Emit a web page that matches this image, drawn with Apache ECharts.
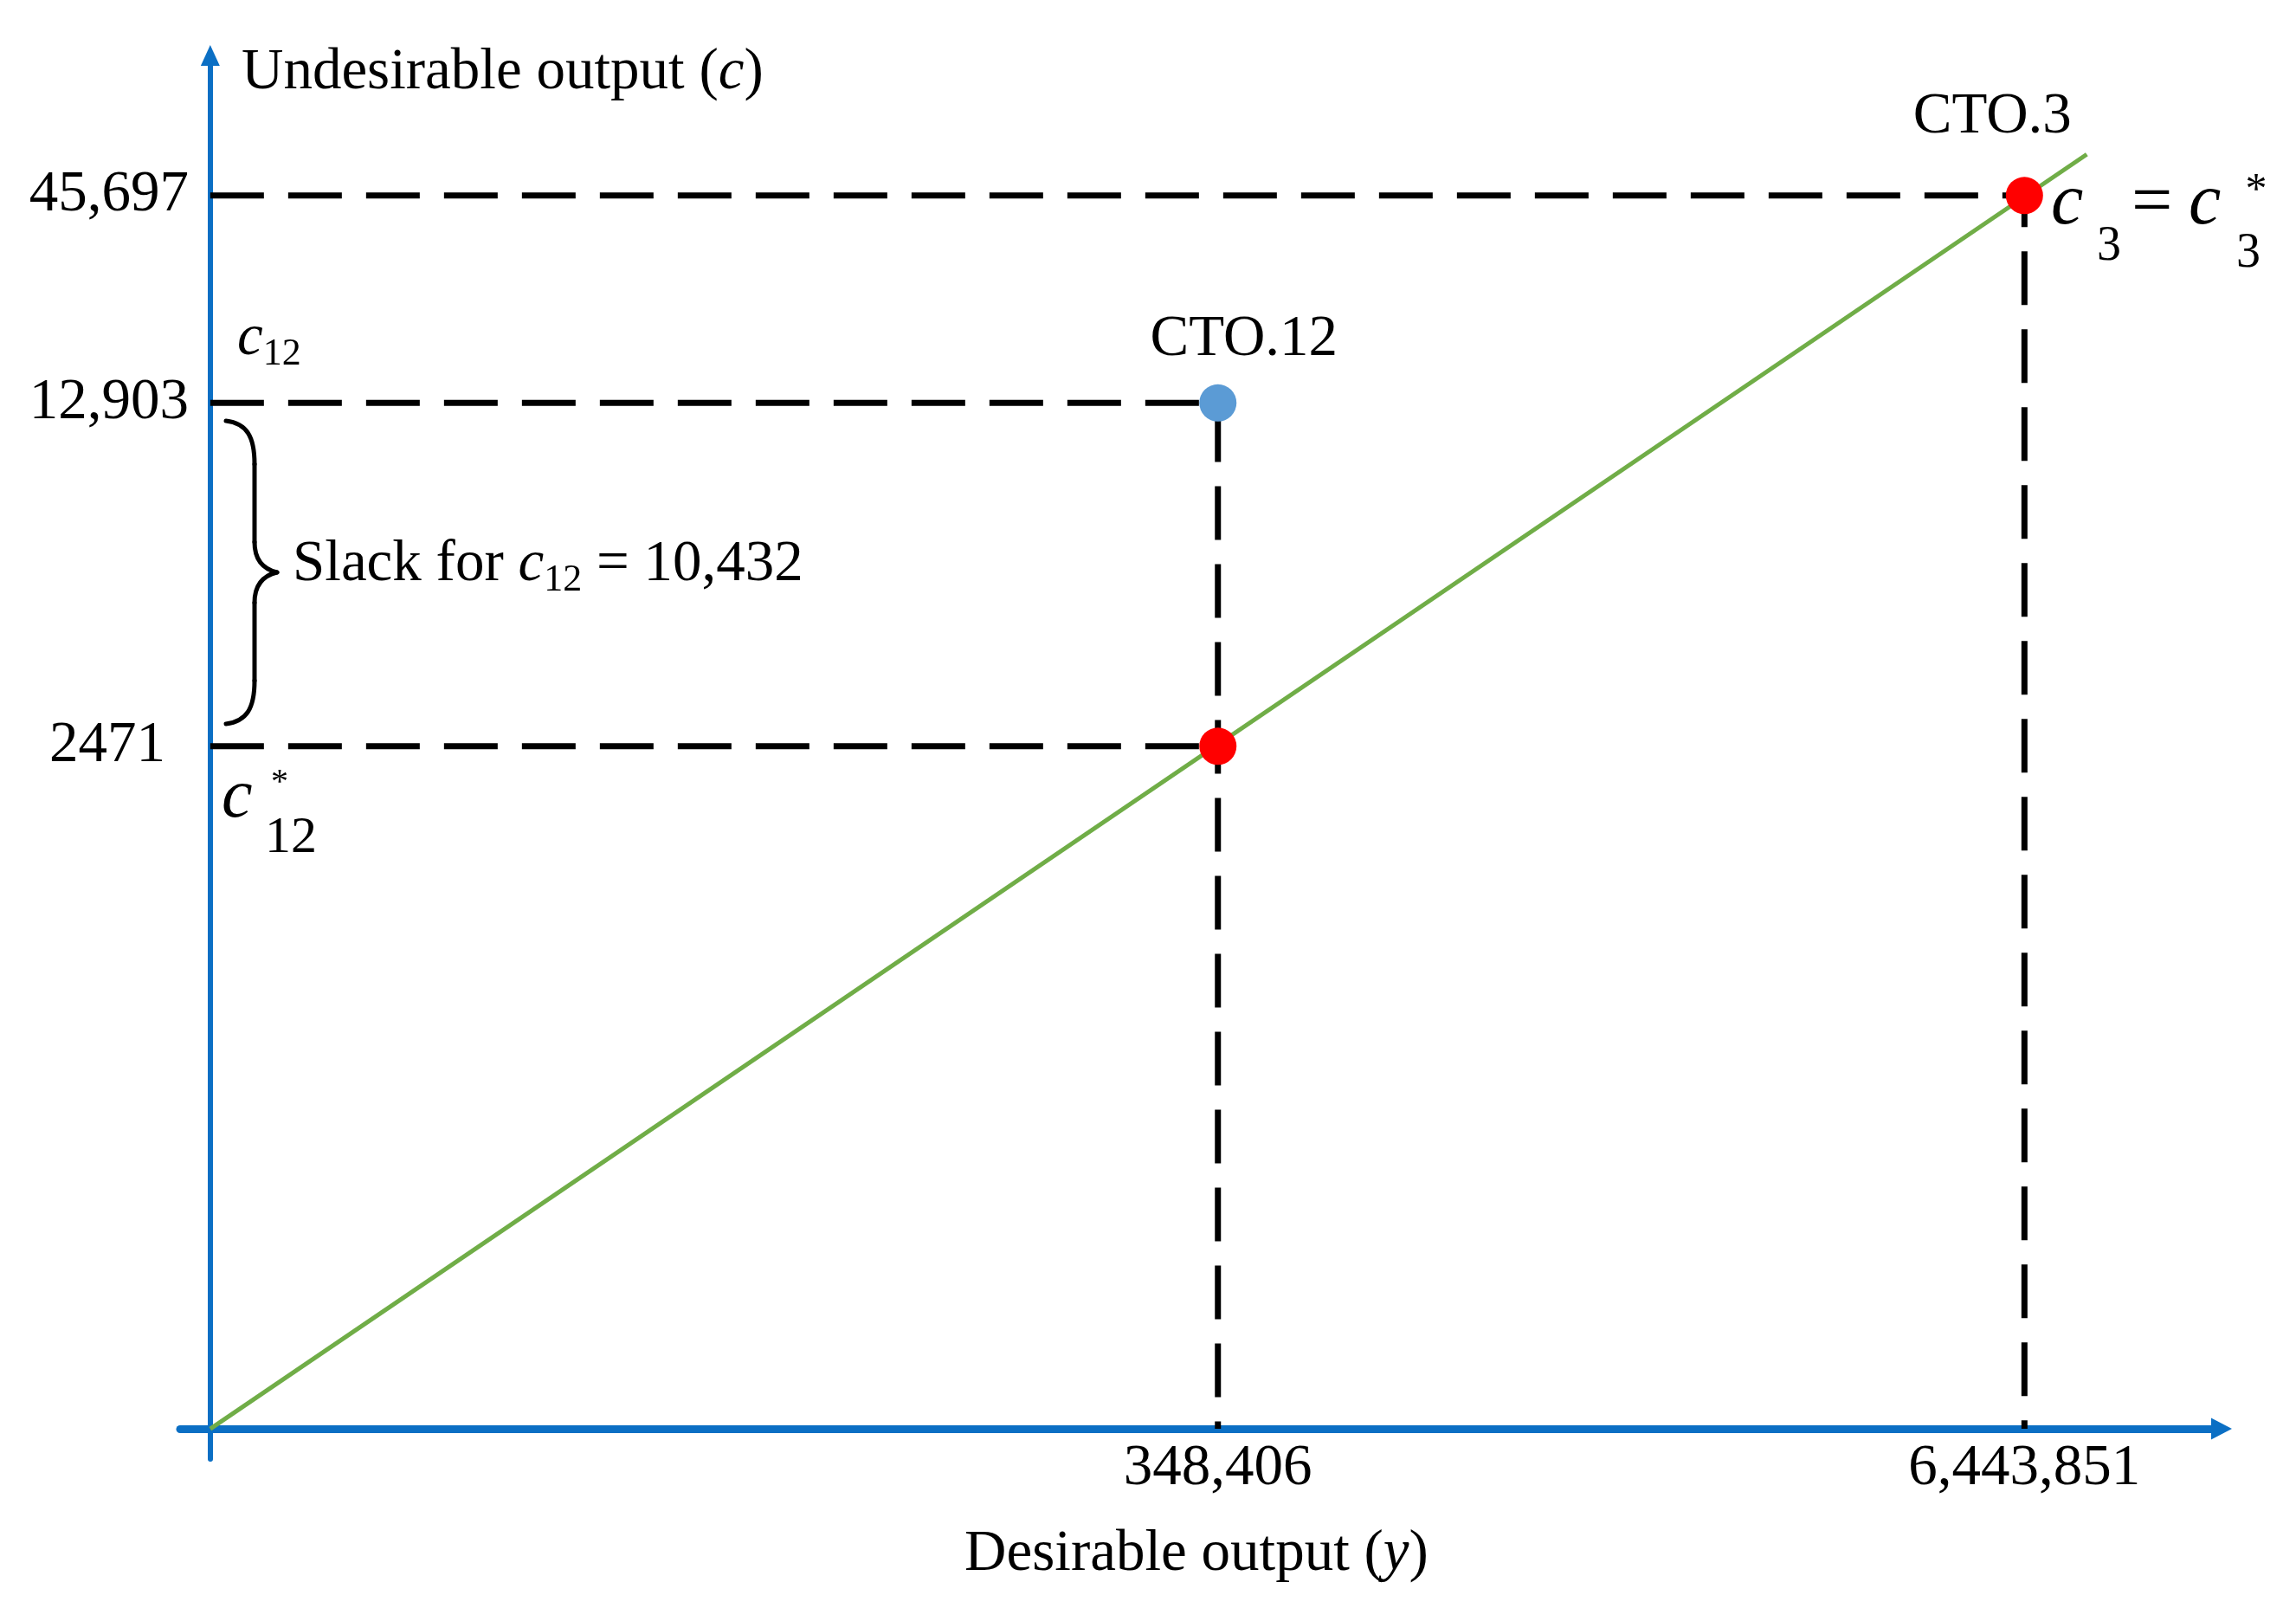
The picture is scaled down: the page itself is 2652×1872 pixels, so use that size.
<!DOCTYPE html>
<html><head><meta charset="utf-8">
<script src="https://cdn.jsdelivr.net/npm/echarts@6/dist/echarts.min.js"></script>
<style>html,body{margin:0;padding:0;background:#fff}#c{width:2652px;height:1872px}</style>
</head><body><div id="c"></div>
<script>
// ---- data (schematic, not-to-scale diagram) ----
// tick labels carry the real values; *At arrays give their place on the schematic axes
const xTickLabels = ['348,406', '6,443,851'];
const xTickAt = [501, 902];
const yTickLabels = ['2471', '12,903', '45,697'];
const yTickAt = [497, 747, 898];
const pointNames = ['CTO.12', '', 'CTO.3'];
// frontier line from origin through the efficient units
const frontier = [[0, 0], [933, 928]];

// derived points: CTO.12 observed, CTO.12 projected, CTO.3
const cto12 = [xTickAt[0], yTickAt[1]];
const cto12Star = [xTickAt[0], yTickAt[0]];
const cto3 = [xTickAt[1], yTickAt[2]];

const FONT = '"Liberation Serif", "Times New Roman", serif';
const AX = '#0b6fc4';
const BLACK = '#000';
const FS = 67;

const chart = echarts.init(document.getElementById('c'));

function t(x, y, text, o) {
  o = o || {};
  return {
    type: 'text', x: x, y: y, z: 100,
    style: Object.assign({
      text: text, fontFamily: FONT, fontSize: o.fs || FS,
      fontStyle: o.it ? 'italic' : 'normal',
      fill: BLACK, align: o.align || 'left', verticalAlign: 'middle'
    }, o.rich ? { rich: o.rich } : {})
  };
}
const tok = (fs, it, extra) => Object.assign({ fontFamily: FONT, fontSize: fs, fontStyle: it ? 'italic' : 'normal', color: BLACK, lineHeight: 80 }, extra || {});
const rich = {
  n: tok(FS, false),
  i: tok(FS, true),
  s: tok(44, false, { lineHeight: 48, verticalAlign: 'bottom' })
};

const dashStyle = { color: BLACK, width: 7, type: [62, 28] };
const braceStyle = { stroke: BLACK, lineWidth: 5, fill: null, lineCap: 'round' };
function bz(x1, y1, c1x, c1y, c2x, c2y, x2, y2) {
  return { type: 'bezierCurve', z: 100, shape: { x1: x1, y1: y1, cpx1: c1x, cpy1: c1y, cpx2: c2x, cpy2: c2y, x2: x2, y2: y2 }, style: braceStyle };
}
function ln(x1, y1, x2, y2) {
  return { type: 'line', z: 100, shape: { x1: x1, y1: y1, x2: x2, y2: y2 }, style: braceStyle };
}

const option = {
  animation: false,
  backgroundColor: '#fff',
  grid: { left: 208, right: 86, top: 64, bottom: 187 },
  xAxis: {
    type: 'value', min: -15, max: 1000,
    axisLine: { show: true, symbol: ['none', 'triangle'], symbolSize: [25, 24], lineStyle: { color: AX, width: 9 } },
    axisTick: { show: false },
    splitLine: { show: false },
    axisLabel: {
      customValues: xTickAt,
      formatter: v => { const i = xTickAt.indexOf(v); return i < 0 ? '' : xTickLabels[i]; },
      fontFamily: FONT, fontSize: FS, color: BLACK, margin: -22
    }
  },
  yAxis: {
    type: 'value', min: -22, max: 1000,
    axisLine: { show: true, symbol: ['none', 'triangle'], symbolSize: [22, 24], lineStyle: { color: AX, width: 6 } },
    axisTick: { show: false },
    splitLine: { show: false },
    axisLabel: {
      customValues: yTickAt,
      formatter: v => {
        const i = yTickAt.indexOf(v);
        if (i < 0) return '';
        return i === 0 ? '{p|' + yTickLabels[i] + '}' : yTickLabels[i];
      },
      rich: { p: { fontFamily: FONT, fontSize: FS, color: BLACK, padding: [0, 27, 0, 0] } },
      fontFamily: FONT, fontSize: FS, color: BLACK, margin: -10
    }
  },
  series: [
    { type: 'line', silent: true, symbol: 'none', z: 2, lineStyle: dashStyle,
      data: [[0, cto3[1]], cto3, [cto3[0], 0]] },
    { type: 'line', silent: true, symbol: 'none', z: 2, lineStyle: dashStyle,
      data: [[0, cto12[1]], cto12, [cto12[0], 0]] },
    { type: 'line', silent: true, symbol: 'none', z: 3, lineStyle: dashStyle,
      data: [[0, cto12Star[1]], cto12Star] },
    { type: 'line', silent: true, symbol: 'none', z: 3, lineStyle: { color: '#70AD47', width: 5 },
      data: frontier },
    { type: 'scatter', silent: true, symbolSize: 43, z: 5,
      itemStyle: { opacity: 1 },
      label: { show: true, position: 'inside', fontFamily: FONT, fontSize: FS, color: BLACK, opacity: 1,
        formatter: p => pointNames[p.dataIndex] },
      data: [
        { value: cto12, itemStyle: { color: '#5B9BD5', opacity: 1 }, label: { offset: [30, -73] } },
        { value: cto12Star, itemStyle: { color: '#FF0000', opacity: 1 } },
        { value: cto3, itemStyle: { color: '#FF0000', opacity: 1 }, label: { offset: [-37, -90] } }
      ] }
  ],
  graphic: [
    t(279, 84, '{n|Undesirable output (}{i|c}{n|)}', { rich: rich }),
    t(1382, 1795, '{n|Desirable output (}{i|y}{n|)}', { rich: rich, align: 'center' }),
    t(274, 391, '{i|c}{s|12}', { rich: rich }),
    t(338, 652, '{n|Slack for }{i|c}{s|12}{n| = 10,432}', { rich: rich }),
    // brace
    bz(261, 486, 285, 489, 294, 504, 294, 536),
    ln(294, 536, 294, 626),
    bz(294, 626, 294, 646, 303, 657, 320, 661),
    bz(320, 661, 303, 665, 294, 676, 294, 696),
    ln(294, 696, 294, 786),
    bz(294, 786, 294, 818, 285, 833, 261, 836),
    // c*_12
    t(256, 922, 'c', { it: true, fs: 80 }),
    t(323, 904, '*', { fs: 40, align: 'center' }),
    t(306, 968, '12', { fs: 60 }),
    // c_3 = c*_3
    t(2369, 236, 'c', { it: true, fs: 84 }),
    t(2422, 285, '3', { fs: 56 }),
    t(2462, 237, '=', { fs: 84 }),
    t(2528, 236, 'c', { it: true, fs: 84 }),
    t(2606, 221, '*', { fs: 50, align: 'center' }),
    t(2583, 293, '3', { fs: 56 })
  ]
};
chart.setOption(option);
</script></body></html>
